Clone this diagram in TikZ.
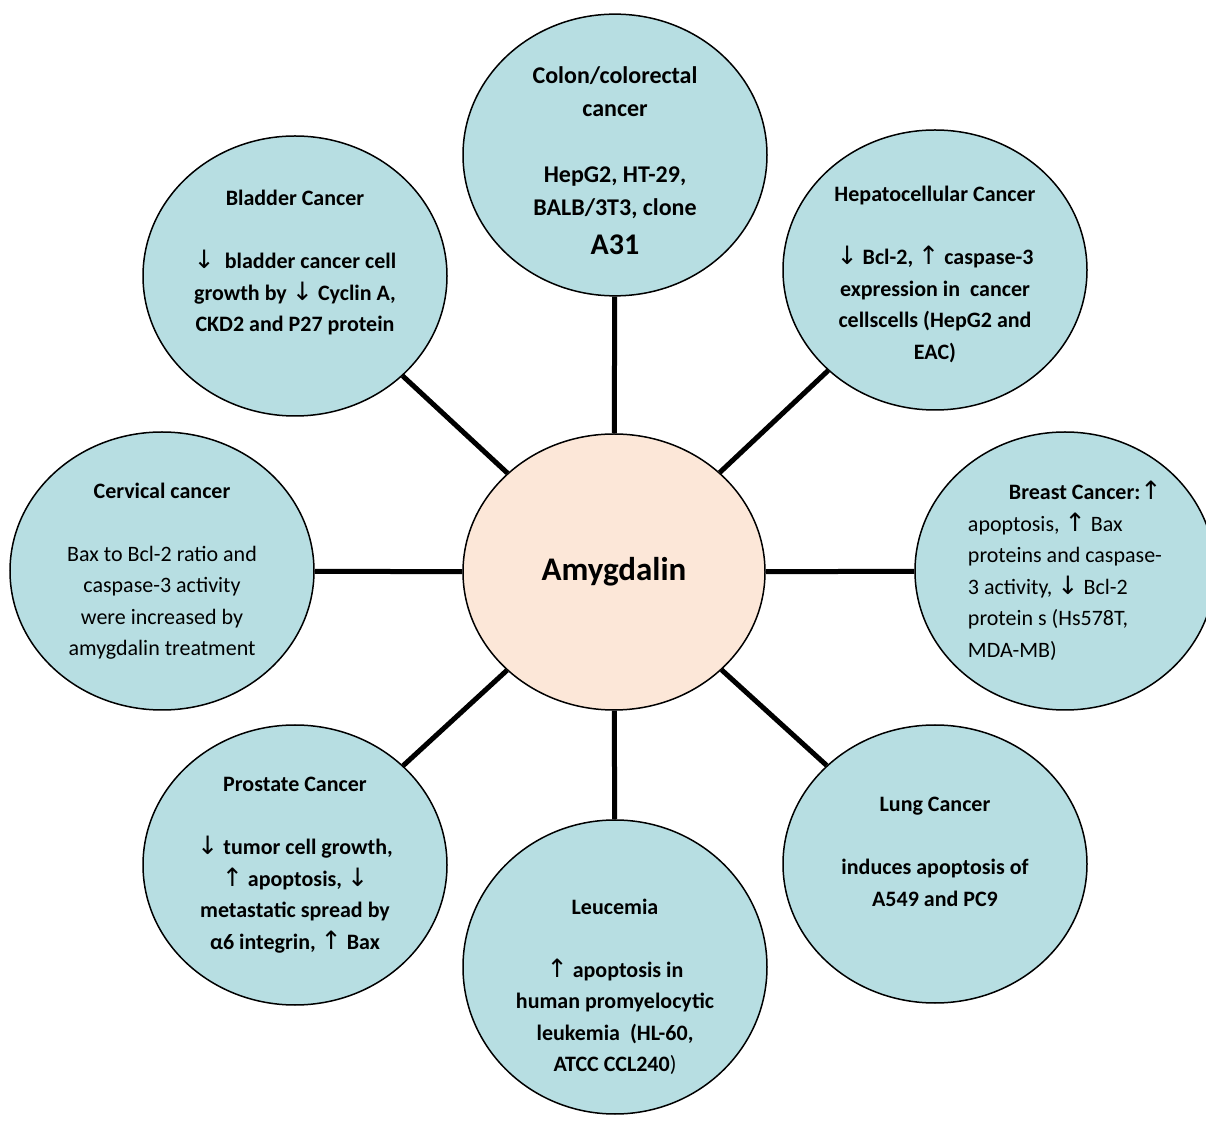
\documentclass[tikz,border=0pt]{standalone}
\usepackage{fontspec}
\setmainfont{Carlito}
\newfontfamily\arrowfont[Scale=1.15]{DejaVu Sans}
\usepackage{tikz}
\usetikzlibrary{shapes.geometric}
\definecolor{cellblue}{RGB}{183,222,226}
\definecolor{drugpeach}{RGB}{252,231,216}
\newcommand{\upar}{{\arrowfont\mdseries\char"2191}}
\newcommand{\dnar}{{\arrowfont\mdseries\char"2193}}
% struts to move a text block up or down inside its circle
\newcommand{\padtop}[1]{\rule{0pt}{#1}}
\newcommand{\padbot}[1]{\rule[-#1]{0pt}{0pt}}

\begin{document}
\begin{tikzpicture}[x=0.5pt,y=-0.5pt,
    every node/.style={font=\fontsize{11}{15.75}\selectfont, align=center},
    cancer/.style={ellipse, draw=black, line width=0.75pt, fill=cellblue,
        inner sep=0pt, minimum width=152pt, minimum height=140pt,
        font=\fontsize{11}{15.75}\selectfont\bfseries},
    drug/.style={cancer, fill=drugpeach, minimum width=151pt,
        minimum height=138pt},
    spoke/.style={line width=2.5pt}]

    \useasboundingbox (0,0) rectangle (1206,1122);

    \node[drug] (amy) at (614,572) {\fontsize{16.5}{20}\selectfont Amygdalin};

    \node[cancer, font=\fontsize{12}{16.5}\selectfont\bfseries] (colon) at (615,155)
        {\padtop{14pt}Colon/colorectal\\ cancer\\[16.5pt] HepG2, HT-29,\\ BALB/3T3, clone\\[3pt]
         {\fontsize{15}{18}\selectfont A31}};
    \node[cancer] (bladder) at (295,276)
        {Bladder Cancer\\[15.75pt] \dnar\ \ bladder cancer cell\\
         growth by \dnar{} Cyclin A,\\ CKD2 and P27 protein\padbot{15pt}};
    \node[cancer] (hepato) at (935,270)
        {\padtop{12pt}Hepatocellular Cancer\\[15.75pt] \dnar{} Bcl-2, \upar{} caspase-3\\
         expression in\ \ cancer\\ cellscells (HepG2 and\\ EAC)};
    \node[cancer, minimum height=139pt] (cervix) at (162,571)
        {Cervical cancer\\[15.75pt] \mdseries Bax to Bcl-2 ratio and\\
         \mdseries caspase-3 activity\\ \mdseries were increased by\\
         \mdseries amygdalin treatment};
    \node[cancer, minimum width=150pt, minimum height=139pt, align=left,
        font=\fontsize{11}{15.75}\selectfont] (breast) at (1065,571)
        {\hspace*{20.5pt}{\bfseries Breast Cancer:}\upar\\ apoptosis, \upar{} Bax\\
         proteins and caspase-\\ 3 activity, \dnar{} Bcl-2\\
         protein s (Hs578T,\\ MDA-MB)};
    \node[cancer] (prostate) at (295,865)
        {Prostate Cancer\\[15.75pt] \dnar{} tumor cell growth,\\
         \upar{} apoptosis, \dnar\\ metastatic spread by\\
         α6 integrin, \upar{} Bax};
    \node[cancer, minimum height=139pt] (lung) at (935,864)
        {Lung Cancer\\[15.75pt] induces apoptosis of\\ A549 and PC9\padbot{12pt}};
    \node[cancer, minimum height=147pt, inner ysep=-3pt] (leuk) at (615,967)
        {\padtop{27.5pt}Leucemia\\[15.75pt] \upar{} apoptosis in\\ human promyelocytic\\
         leukemia\ \ (HL-60,\\ ATCC CCL240{\mdseries )}};

    \foreach \n in {colon,hepato,breast,lung,leuk,prostate,cervix,bladder}
        \draw[spoke] (amy) -- (\n);

\end{tikzpicture}
\end{document}
